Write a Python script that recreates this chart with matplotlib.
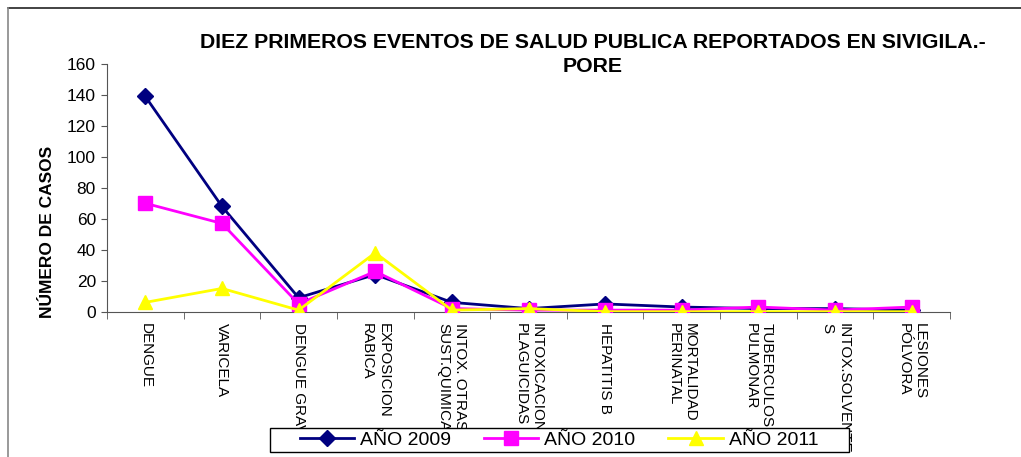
import matplotlib.pyplot as plt
from matplotlib.lines import Line2D
from matplotlib.patches import Rectangle

# data
eventos = ["DENGUE", "VARICELA", "DENGUE GRAVE", "EXPOSICION\nRABICA",
           "INTOX. OTRAS\nSUST.QUIMICAS", "INTOXICACION\nPLAGUICIDAS",
           "HEPATITIS B", "MORTALIDAD\nPERINATAL", "TUBERCULOSIS\nPULMONAR",
           "INTOX.SOLVENTE\nS", "LESIONES\nPÓLVORA"]
casos_2009 = [139, 68, 9, 24, 6, 2, 5, 3, 2, 2, 1]
casos_2010 = [70, 57, 5, 26, 2, 1, 1, 1, 3, 1, 3]
casos_2011 = [6, 15, 1, 38, 1, 2, 0, 0, 0, 0, 0]
y_ticks = [0, 20, 40, 60, 80, 100, 120, 140, 160]

plt.rcParams['font.family'] = ['Liberation Sans', 'DejaVu Sans']

W, H = 1021, 457
fig = plt.figure(figsize=(W / 100, H / 100), dpi=100)
ax = fig.add_axes([0.1048, 0.318, 0.8257, 0.542])

x = list(range(len(eventos)))
ax.plot(x, casos_2009, color='#000080', lw=2, marker='D', ms=8, label='AÑO 2009', zorder=3)
ax.plot(x, casos_2010, color='#FF00FF', lw=2, marker='s', ms=10, label='AÑO 2010', zorder=4)
ax.plot(x, casos_2011, color='#FFFF00', lw=2, marker='^', ms=10, label='AÑO 2011', zorder=5)

ax.set_xlim(-0.5, len(eventos) - 0.5)
ax.set_ylim(0, 160)
ax.set_yticks(y_ticks)
ax.tick_params(axis='y', labelsize=12.5, length=4, color='#555555', pad=4)

ax.set_xticks(x)
ax.set_xticklabels(eventos, rotation=270, ha='center', va='top',
                   multialignment='left', fontsize=11)
ax.set_xticks([i - 0.5 for i in range(len(eventos) + 1)], minor=True)
ax.tick_params(axis='x', which='major', length=0, pad=8)
ax.tick_params(axis='x', which='minor', length=5, color='#555555')

for s in ['top', 'right']:
    ax.spines[s].set_visible(False)
for s in ['left', 'bottom']:
    ax.spines[s].set_color('#555555')

fig.text(593 / W, 1 - 33 / H,
         "DIEZ PRIMEROS EVENTOS DE SALUD PUBLICA REPORTADOS EN SIVIGILA.-\nPORE",
         ha='center', va='top', fontsize=15.3, fontweight='bold', linespacing=1.3)
fig.text(47 / W, 1 - 232 / H, "NÚMERO DE CASOS", rotation=90,
         ha='center', va='center', fontsize=12.5, fontweight='bold')

# outer chart frame (top and left edges visible)
fig.add_artist(Line2D([8 / W, 1], [1 - 8 / H, 1 - 8 / H], color='#222222', lw=1.2))
fig.add_artist(Line2D([8 / W, 8 / W], [0, 1 - 8 / H], color='#888888', lw=1.2))

# legend box, drawn over the long category labels
fig.add_artist(Rectangle((270 / W, 1 - 452 / H), 579 / W, 24 / H,
                         transform=fig.transFigure, facecolor='white',
                         edgecolor='black', lw=1, zorder=4))
leg = fig.legend(loc='center', bbox_to_anchor=(559 / W, 1 - 440 / H), ncol=3,
                 fontsize=14, frameon=False,
                 handlelength=2.8, columnspacing=1.7, handletextpad=0.3,
                 borderpad=0.1, borderaxespad=0)
leg.set_zorder(5)

fig.savefig('out.png', dpi=100)
